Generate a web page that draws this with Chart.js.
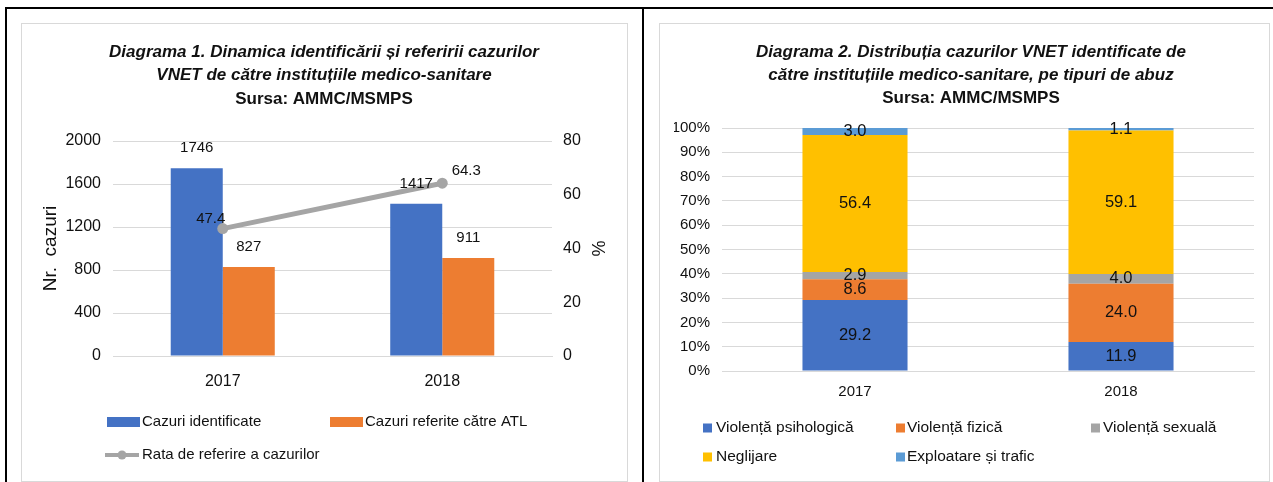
<!DOCTYPE html>
<html>
<head>
<meta charset="utf-8">
<script src="https://cdn.jsdelivr.net/npm/chart.js@4/dist/chart.umd.min.js"></script>
<style>
  html, body { margin: 0; padding: 0; background: #fff; }
  body { width: 1273px; height: 482px; position: relative; overflow: hidden; }
  .rule { position: absolute; background: #000; }
  .frame { position: absolute; border: 1px solid #d9d9d9; box-sizing: border-box; }
  canvas { position: absolute; }
</style>
</head>
<body>
<div class="rule" style="left:5px;top:7px;width:1268px;height:2px"></div>
<div class="rule" style="left:5px;top:7px;width:2px;height:475px"></div>
<div class="rule" style="left:642px;top:7px;width:2px;height:475px"></div>
<div class="frame" style="left:21px;top:23px;width:607px;height:459px"></div>
<div class="frame" style="left:659px;top:23px;width:611px;height:459px"></div>
<canvas id="c1" width="604" height="456" style="left:22px;top:24px"></canvas>
<canvas id="c2" width="608" height="456" style="left:660px;top:24px"></canvas>
<script>
// ---------- data ----------
const years = ['2017', '2018'];

// Diagrama 1
const identified = [1746, 1417];
const referred = [827, 911];
const referralRate = [47.4, 64.3];
const countTicks = { min: 0, max: 2000, step: 400 };
const rateTicks = { min: 0, max: 80, step: 20 };

// Diagrama 2 (%)
const psych = [29.2, 11.9];
const physical = [8.6, 24.0];
const sexual = [2.9, 4.0];
const neglect = [56.4, 59.1];
const exploit = [3.0, 1.1];
const pctTicks = { min: 0, max: 100, step: 10 };

const FONT = "'Liberation Sans', Arial, sans-serif";
const INK = '#111';
const GRID = '#d9d9d9';
Chart.defaults.font.family = FONT;
Chart.defaults.color = INK;

// ---------- plugins ----------
const valueLabels = {
  id: 'valueLabels',
  afterDatasetsDraw(chart, args, opts) {
    const ctx = chart.ctx;
    ctx.save();
    ctx.font = opts.size + 'px ' + FONT;
    ctx.fillStyle = INK;
    ctx.textAlign = 'center';
    ctx.textBaseline = 'middle';
    chart.data.datasets.forEach((ds, i) => {
      const meta = chart.getDatasetMeta(i);
      meta.data.forEach((el, j) => {
        const v = ds.data[j];
        const text = ds.decimals ? v.toFixed(ds.decimals) : String(v);
        let x = el.x, y;
        if (opts.inside) {
          y = (el.y + el.base) / 2;
        } else if (ds.type === 'line') {
          x += opts.lineOffsets[j][0];
          y = el.y + opts.lineOffsets[j][1];
        } else {
          y = el.y - opts.above;
        }
        ctx.fillText(text, x, y);
      });
    });
    ctx.restore();
  }
};

const boxLegend = {
  id: 'boxLegend',
  afterDraw(chart, args, opts) {
    const ctx = chart.ctx;
    ctx.save();
    ctx.font = opts.size + 'px ' + FONT;
    ctx.textBaseline = 'middle';
    ctx.textAlign = 'left';
    chart.data.datasets.forEach((ds, i) => {
      const [x, y, tx] = opts.slots[i];
      if (ds.type === 'line') {
        ctx.strokeStyle = ds.borderColor;
        ctx.lineWidth = 4;
        ctx.beginPath();
        ctx.moveTo(x, y);
        ctx.lineTo(tx - 3, y);
        ctx.stroke();
        ctx.fillStyle = ds.pointBackgroundColor;
        ctx.beginPath();
        ctx.arc((x + tx - 3) / 2, y, 4.5, 0, Math.PI * 2);
        ctx.fill();
      } else {
        ctx.fillStyle = ds.backgroundColor;
        ctx.fillRect(x, y - opts.boxH / 2, opts.boxW, opts.boxH);
      }
      ctx.fillStyle = INK;
      ctx.fillText(ds.label, tx, y);
    });
    ctx.restore();
  }
};

// ---------- Diagrama 1 ----------
new Chart(document.getElementById('c1'), {
  data: {
    labels: years,
    datasets: [
      { type: 'bar', label: 'Cazuri identificate', data: identified, backgroundColor: '#4472C4', yAxisID: 'y', order: 1 },
      { type: 'bar', label: 'Cazuri referite către ATL', data: referred, backgroundColor: '#ED7D31', yAxisID: 'y', order: 1 },
      { type: 'line', label: 'Rata de referire a cazurilor', data: referralRate, decimals: 1, yAxisID: 'y1', order: 0,
        borderColor: '#A5A5A5', borderWidth: 5, pointBackgroundColor: '#A5A5A5', pointBorderColor: '#A5A5A5',
        pointRadius: 5.5, pointBorderWidth: 0 }
    ]
  },
  options: {
    responsive: false,
    animation: false,
    layout: { padding: 0 },
    datasets: { bar: { barPercentage: 1, categoryPercentage: 0.474 } },
    scales: {
      x: {
        grid: { display: false },
        border: { color: GRID },
        ticks: { font: { size: 16 }, padding: 8 },
        afterFit(s) { s.height = 124; }
      },
      y: {
        position: 'left',
        min: countTicks.min, max: countTicks.max,
        ticks: { stepSize: countTicks.step, font: { size: 16 }, padding: 12, callback: v => String(v) },
        grid: { color: GRID, drawTicks: false },
        border: { display: false },
        title: { display: true, text: 'Nr.  cazuri', font: { size: 19 }, padding: { top: 17 } },
        afterFit(s) { s.width = 91; }
      },
      y1: {
        position: 'right',
        min: rateTicks.min, max: rateTicks.max,
        ticks: { stepSize: rateTicks.step, font: { size: 16 }, padding: 11 },
        grid: { display: false, drawTicks: false },
        border: { display: false },
        title: { display: true, text: '%', font: { size: 18 }, padding: { top: 18 } },
        afterFit(s) { s.width = 74; }
      }
    },
    plugins: {
      legend: { display: false },
      tooltip: { enabled: false },
      title: {
        display: true,
        text: ['Diagrama 1. Dinamica identificării și referirii cazurilor', 'VNET de către instituțiile medico-sanitare'],
        font: { size: 17, weight: 'bold', style: 'italic', lineHeight: 1.353 },
        color: INK,
        padding: { top: 16.5, bottom: 0 }
      },
      subtitle: {
        display: true,
        text: 'Sursa: AMMC/MSMPS',
        font: { size: 17, weight: 'bold', lineHeight: 1.353 },
        color: INK,
        padding: { top: 1, bottom: 30.5 }
      },
      valueLabels: { size: 15, above: 20, lineOffsets: [[-12, -10], [24, -12]] },
      boxLegend: { size: 15, boxW: 33, boxH: 10, slots: [[85, 398, 120], [308, 398, 343], [83, 431, 120]] }
    }
  },
  plugins: [valueLabels, boxLegend]
});

// ---------- Diagrama 2 ----------
new Chart(document.getElementById('c2'), {
  type: 'bar',
  data: {
    labels: years,
    datasets: [
      { label: 'Violență psihologică', data: psych, backgroundColor: '#4472C4', decimals: 1 },
      { label: 'Violență fizică', data: physical, backgroundColor: '#ED7D31', decimals: 1 },
      { label: 'Violență sexuală', data: sexual, backgroundColor: '#A5A5A5', decimals: 1 },
      { label: 'Neglijare', data: neglect, backgroundColor: '#FFC000', decimals: 1 },
      { label: 'Exploatare și trafic', data: exploit, backgroundColor: '#5B9BD5', decimals: 1 }
    ]
  },
  options: {
    responsive: false,
    animation: false,
    layout: { padding: { left: 14, right: 0, top: 0, bottom: 0 } },
    datasets: { bar: { barPercentage: 1, categoryPercentage: 0.395 } },
    scales: {
      x: {
        stacked: true,
        grid: { display: false },
        border: { color: GRID },
        ticks: { font: { size: 15 }, padding: 4 },
        afterFit(s) { s.height = 109; }
      },
      y: {
        stacked: true,
        min: pctTicks.min, max: pctTicks.max,
        ticks: { stepSize: pctTicks.step, font: { size: 15 }, padding: 12, callback: v => v + '%' },
        grid: { color: GRID, drawTicks: false },
        border: { display: false },
        afterFit(s) { s.width = 48; }
      },
      yR: {
        position: 'right',
        grid: { display: false },
        border: { display: false },
        ticks: { display: false },
        afterFit(s) { s.width = 14; }
      }
    },
    plugins: {
      legend: { display: false },
      tooltip: { enabled: false },
      title: {
        display: true,
        text: ['Diagrama 2. Distribuția cazurilor VNET identificate de', 'către instituțiile medico-sanitare, pe tipuri de abuz'],
        font: { size: 17, weight: 'bold', style: 'italic', lineHeight: 1.353 },
        color: INK,
        padding: { top: 16.5, bottom: 0 }
      },
      subtitle: {
        display: true,
        text: 'Sursa: AMMC/MSMPS',
        font: { size: 17, weight: 'bold', lineHeight: 1.353 },
        color: INK,
        padding: { top: 0, bottom: 18.5 }
      },
      valueLabels: { size: 16.5, inside: true },
      boxLegend: { size: 15.5, boxW: 9, boxH: 9, slots: [[43, 404, 56], [236, 404, 247], [431, 404, 443], [43, 433, 56], [236, 433, 247]] }
    }
  },
  plugins: [valueLabels, boxLegend]
});
</script>
</body>
</html>
